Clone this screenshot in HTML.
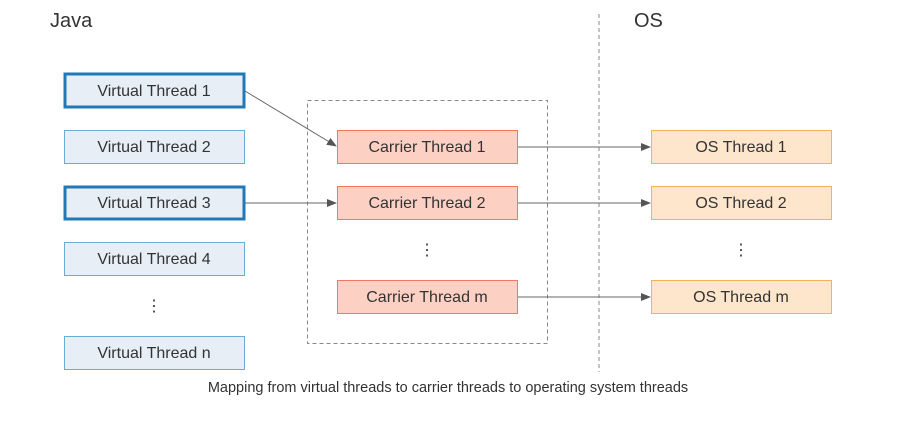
<!DOCTYPE html>
<html><head><style>body{margin:0;background:#fff}svg{display:block}text{font-family:"Liberation Sans",sans-serif;fill:#333}</style></head>
<body>
<svg width="898" height="421" viewBox="0 0 898 421" xmlns="http://www.w3.org/2000/svg">
<defs><marker id="a" markerWidth="10" markerHeight="8" refX="9" refY="4" orient="auto" markerUnits="userSpaceOnUse"><path d="M0,0 L10,4 L0,8 Z" fill="#555"/></marker></defs>
<text x="50" y="27" font-size="20">Java</text>
<text x="634" y="27" font-size="20">OS</text>
<line x1="599" y1="14" x2="599" y2="372" stroke="#888" stroke-dasharray="4,3"/>
<rect x="307.5" y="100.5" width="240" height="243" fill="none" stroke="#888" stroke-dasharray="4,3"/>
<g font-size="16" text-anchor="middle">
<rect x="65" y="74" width="179" height="33" fill="#e8eef6" stroke="#1f7ab5" stroke-width="3"/><text x="154" y="96">Virtual Thread 1</text>
<rect x="64.5" y="130.5" width="180" height="33" fill="#e8eef6" stroke="#6aaed6"/><text x="154" y="152">Virtual Thread 2</text>
<rect x="65" y="187" width="179" height="32" fill="#e8eef6" stroke="#1f7ab5" stroke-width="3"/><text x="154" y="208">Virtual Thread 3</text>
<rect x="64.5" y="242.5" width="180" height="33" fill="#e8eef6" stroke="#6aaed6"/><text x="154" y="264">Virtual Thread 4</text>
<text x="154" y="311">⋮</text>
<rect x="64.5" y="336.5" width="180" height="33" fill="#e8eef6" stroke="#6aaed6"/><text x="154" y="358">Virtual Thread n</text>
<rect x="337.5" y="130.5" width="180" height="33" fill="#fdd0c4" stroke="#f07a5a"/><text x="427" y="152">Carrier Thread 1</text>
<rect x="337.5" y="186.5" width="180" height="33" fill="#fdd0c4" stroke="#f07a5a"/><text x="427" y="208">Carrier Thread 2</text>
<text x="427" y="255">⋮</text>
<rect x="337.5" y="280.5" width="180" height="33" fill="#fdd0c4" stroke="#f07a5a"/><text x="427" y="302">Carrier Thread m</text>
<rect x="651.5" y="130.5" width="180" height="33" fill="#fde6cc" stroke="#f5b15a"/><text x="741" y="152">OS Thread 1</text>
<rect x="651.5" y="186.5" width="180" height="33" fill="#fde6cc" stroke="#f5b15a"/><text x="741" y="208">OS Thread 2</text>
<text x="741" y="255">⋮</text>
<rect x="651.5" y="280.5" width="180" height="33" fill="#fde6cc" stroke="#f5b15a"/><text x="741" y="302">OS Thread m</text>
</g>
<g stroke="#666" stroke-width="1" marker-end="url(#a)">
<line x1="245" y1="91" x2="336" y2="146"/>
<line x1="245" y1="203" x2="336" y2="203"/>
<line x1="518" y1="147" x2="650" y2="147"/>
<line x1="518" y1="203" x2="650" y2="203"/>
<line x1="518" y1="297" x2="650" y2="297"/>
</g>
<text x="448" y="392" font-size="14.5" text-anchor="middle">Mapping from virtual threads to carrier threads to operating system threads</text>
</svg>
</body></html>
